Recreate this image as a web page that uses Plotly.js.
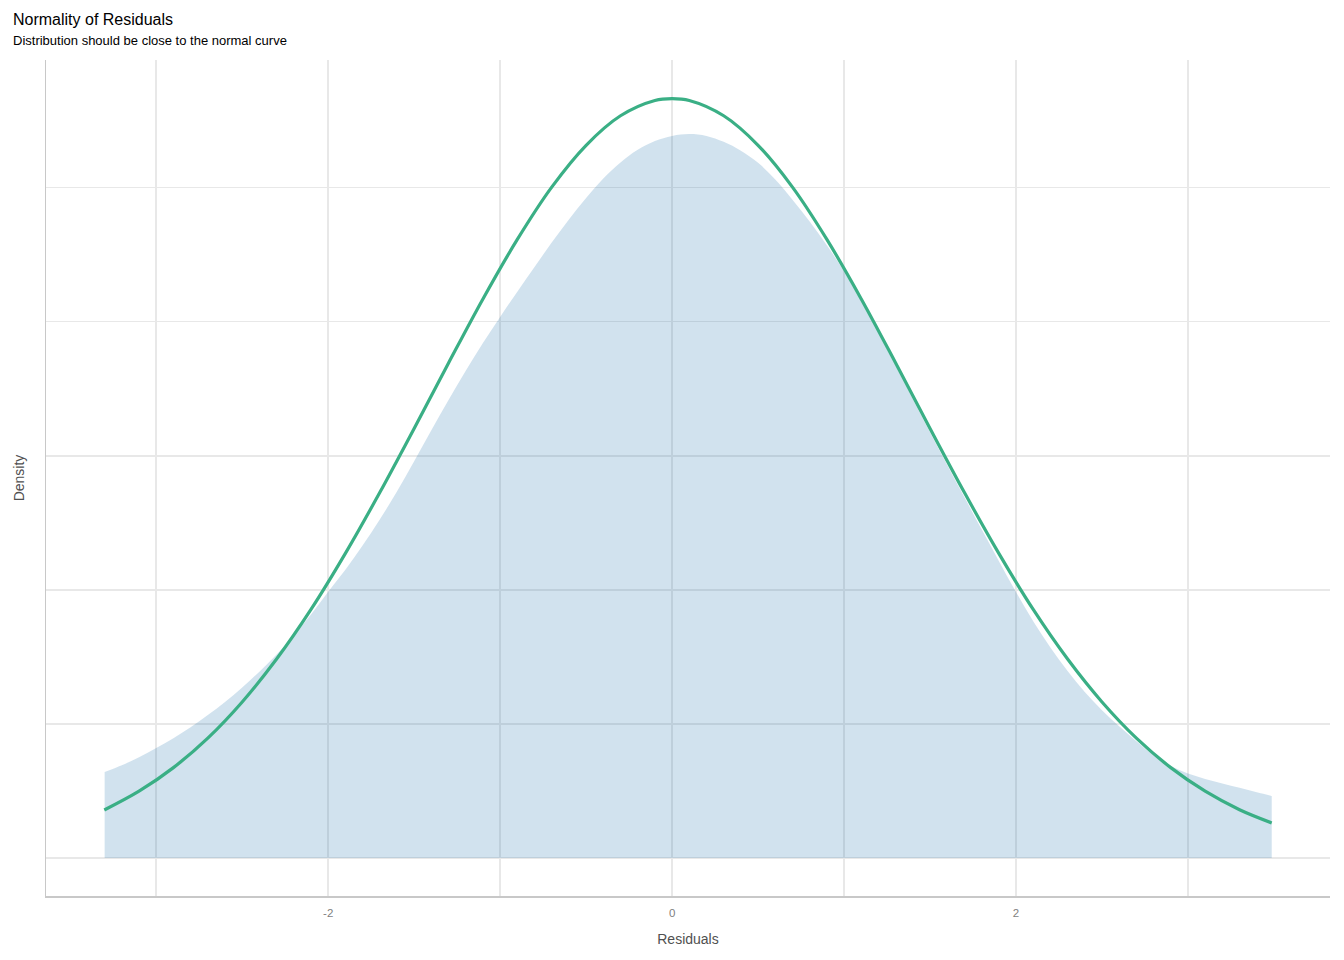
<!DOCTYPE html>
<html>
<head>
<meta charset="utf-8">
<script src="https://cdn.plot.ly/plotly-3.0.1.min.js"></script>
<style>
  html, body { margin: 0; padding: 0; background: #ffffff; }
  #chart { width: 1344px; height: 960px; }
</style>
</head>
<body>
<div id="chart"></div>
<script>
var densX = [-3.30, -3.20, -3.10, -3.00, -2.90, -2.80, -2.70, -2.60, -2.50, -2.40,
             -2.30, -2.20, -2.10, -2.00, -1.90, -1.80, -1.70, -1.60, -1.50, -1.40,
             -1.30, -1.20, -1.10, -1.00, -0.90, -0.80, -0.70, -0.60, -0.50, -0.40,
             -0.30, -0.20, -0.10, 0.00, 0.10, 0.20, 0.30, 0.40, 0.50, 0.60,
             0.70, 0.80, 0.90, 1.00, 1.10, 1.20, 1.30, 1.40, 1.50, 1.60,
             1.70, 1.80, 1.90, 2.00, 2.10, 2.20, 2.30, 2.40, 2.50, 2.60,
             2.70, 2.80, 2.90, 3.00, 3.10, 3.20, 3.30, 3.40, 3.487];
var densY = [0.0321, 0.0346, 0.0376, 0.0410, 0.0447, 0.0488, 0.0533, 0.0582, 0.0636, 0.0695,
             0.0759, 0.0830, 0.0908, 0.0993, 0.1075, 0.1165, 0.1262, 0.1367, 0.1480, 0.1595,
             0.1708, 0.1817, 0.1921, 0.2018, 0.2112, 0.2204, 0.2295, 0.2381, 0.2461, 0.2534,
             0.2594, 0.2641, 0.2674, 0.2693, 0.2700, 0.2693, 0.2671, 0.2638, 0.2593, 0.2530,
             0.2455, 0.2374, 0.2285, 0.2188, 0.2077, 0.1958, 0.1836, 0.1712, 0.1588, 0.1466,
             0.1345, 0.1226, 0.1108, 0.0992, 0.0883, 0.0785, 0.0697, 0.0619, 0.0551, 0.0491,
             0.0435, 0.0383, 0.0343, 0.0315, 0.0295, 0.0278, 0.0262, 0.0245, 0.0231];

// Reference normal curve
var normX = [-3.302, -3.10, -2.90, -2.70, -2.50, -2.30, -2.10, -1.90, -1.70, -1.50,
             -1.30, -1.10, -0.90, -0.70, -0.50, -0.30, -0.10, 0.00, 0.10, 0.30,
             0.50, 0.70, 0.90, 1.10, 1.30, 1.50, 1.70, 1.90, 2.10, 2.30,
             2.50, 2.70, 2.90, 3.10, 3.30, 3.487];
var normY = [0.0179, 0.0249, 0.0337, 0.0447, 0.0582, 0.0742, 0.0927, 0.1136, 0.1363, 0.1602,
             0.1846, 0.2085, 0.2307, 0.2502, 0.2658, 0.2768, 0.2825, 0.2832, 0.2825, 0.2768,
             0.2658, 0.2502, 0.2307, 0.2085, 0.1846, 0.1602, 0.1363, 0.1136, 0.0927, 0.0742,
             0.0582, 0.0447, 0.0337, 0.0249, 0.0180, 0.0131];

// Axis ticks / gridlines
var xTickVals = [-3, -2, -1, 0, 1, 2, 3];
var xTickText = ['', '-2', '', '0', '', '2', ''];
var yGridVals = [0, 0.05, 0.10, 0.15, 0.20, 0.25];
var yGridText = ['', '', '', '', '', ''];

var FONT = 'Liberation Sans, Arial, Helvetica, sans-serif';

var traces = [
  {
    x: densX, y: densY,
    type: 'scatter', mode: 'lines',
    fill: 'tozeroy',
    fillcolor: 'rgba(27,108,168,0.2)',
    line: { width: 0, color: 'rgba(27,108,168,0)', shape: 'spline', smoothing: 1 },
    hoverinfo: 'skip', showlegend: false
  },
  {
    x: normX, y: normY,
    type: 'scatter', mode: 'lines',
    line: { width: 3.2, color: '#3aaf85', shape: 'spline', smoothing: 1 },
    hoverinfo: 'skip', showlegend: false
  }
];

var layout = {
  width: 1344, height: 960,
  paper_bgcolor: '#ffffff', plot_bgcolor: '#ffffff',
  margin: { l: 46, r: 14, t: 60, b: 64, pad: 0 },
  font: { family: FONT, color: '#333333' },
  showlegend: false,
  title: {
    text: 'Normality of Residuals',
    font: { family: FONT, size: 16, color: '#000000' },
    x: 13 / 1344, xref: 'container', xanchor: 'left',
    y: 1 - 19.1 / 960, yref: 'container', yanchor: 'middle',
    pad: { t: 0, b: 0, l: 0, r: 0 }
  },
  annotations: [
    {
      text: 'Distribution should be close to the normal curve',
      xref: 'paper', yref: 'paper',
      x: (11 - 46) / 1284, y: (896 - 40.5) / 836,
      xanchor: 'left', yanchor: 'middle',
      showarrow: false,
      font: { family: FONT, size: 13, color: '#000000' }
    }
  ],
  xaxis: {
    range: [-3.641, 3.826],
    tickmode: 'array', tickvals: xTickVals, ticktext: xTickText,
    ticks: '', ticklabelstandoff: 6,
    tickfont: { family: FONT, size: 11.5, color: '#7f7f7f' },
    showgrid: true, gridcolor: '#e8e8e8', gridwidth: 1.5,
    zeroline: false,
    showline: true, linecolor: '#c8c8c8', linewidth: 1.5,
    title: { text: 'Residuals', font: { family: FONT, size: 14, color: '#505050' }, standoff: 16 },
    fixedrange: true
  },
  yaxis: {
    range: [-0.01417, 0.2976],
    tickmode: 'array', tickvals: yGridVals, ticktext: yGridText,
    ticks: '', showticklabels: false,
    showgrid: true, gridcolor: '#e8e8e8', gridwidth: 1.5,
    zeroline: false,
    showline: true, linecolor: '#c8c8c8', linewidth: 1.5,
    title: { text: 'Density', font: { family: FONT, size: 14, color: '#505050' }, standoff: 16.5 },
    fixedrange: true
  }
};

Plotly.newPlot('chart', traces, layout, { displayModeBar: false, staticPlot: true });
</script>
</body>
</html>
